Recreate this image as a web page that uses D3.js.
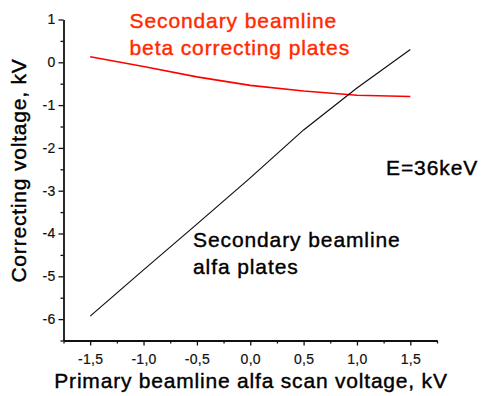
<!DOCTYPE html>
<html>
<head>
<meta charset="utf-8">
<script src="https://cdn.jsdelivr.net/npm/d3@7"></script>
<style>
  body { margin: 0; background: #fff; }
  text { font-family: "Liberation Sans", Arial, sans-serif; }
</style>
</head>
<body>
<svg id="chart" width="481" height="396"></svg>
<script>
// scan voltage of the primary beamline, kV
const scanVoltage = [-1.5, -1.0, -0.5, 0.0, 0.5, 1.0, 1.5];
// secondary beamline alfa plates
const alfaPlates = [-5.93, -4.85, -3.78, -2.70, -1.58, -0.60, 0.30];
// secondary beamline beta correcting plates
const betaPlates = [0.13, -0.10, -0.34, -0.54, -0.67, -0.77, -0.80];

const xMajor = [-1.5, -1.0, -0.5, 0.0, 0.5, 1.0, 1.5];
const xMinor = [-1.75, -1.25, -0.75, -0.25, 0.25, 0.75, 1.25, 1.75];
const yMajor = [1, 0, -1, -2, -3, -4, -5, -6];
const yMinor = [0.5, -0.5, -1.5, -2.5, -3.5, -4.5, -5.5, -6.5];

const svg = d3.select('#chart');

const x = d3.scaleLinear().domain([-1.75, 1.75]).range([63.5, 437]);
const y = d3.scaleLinear().domain([-6.5, 1]).range([340.5, 19.5]);

const fmtX = d => d3.format('.1f')(d).replace('.', ',').replace('\u2212', '-');
const fmtY = d => String(d);

// axes
const gx = svg.append('g').attr('transform', 'translate(0,' + y(-6.5) + ')');
gx.call(d3.axisBottom(x).tickValues(xMajor).tickSize(5).tickSizeOuter(0).tickPadding(9).tickFormat(fmtX));
gx.append('g').call(d3.axisBottom(x).tickValues(xMinor).tickSize(3).tickSizeOuter(0).tickFormat(''))
  .select('.domain').remove();

const gy = svg.append('g').attr('transform', 'translate(' + x(-1.75) + ',0)');
gy.call(d3.axisLeft(y).tickValues(yMajor).tickSize(5).tickSizeOuter(0).tickPadding(3).tickFormat(fmtY));
gy.append('g').call(d3.axisLeft(y).tickValues(yMinor).tickSize(3).tickSizeOuter(0).tickFormat(''))
  .select('.domain').remove();

svg.selectAll('.domain').attr('stroke', '#111').attr('stroke-width', 1.8);
svg.selectAll('.tick line').attr('stroke', '#111').attr('stroke-width', 1.3);
svg.selectAll('.tick text')
  .attr('fill', '#111')
  .attr('stroke', '#111')
  .attr('stroke-width', 0.2)
  .style('font-size', '14px')
  .style('letter-spacing', '0.3px')
  .style('font-family', '"Liberation Sans", Arial, sans-serif');

// lines
const line = d3.line().x(d => x(d[0])).y(d => y(d[1]));

svg.append('path')
  .datum(d3.zip(scanVoltage, betaPlates))
  .attr('d', line)
  .attr('fill', 'none')
  .attr('stroke', '#ff0000')
  .attr('stroke-width', 1.6);

svg.append('path')
  .datum(d3.zip(scanVoltage, alfaPlates))
  .attr('d', line)
  .attr('fill', 'none')
  .attr('stroke', '#111')
  .attr('stroke-width', 1.2);

// axis titles
svg.append('text')
  .attr('x', 251).attr('y', 387.5)
  .attr('text-anchor', 'middle')
  .style('font-size', '21px')
  .style('letter-spacing', '0.8px')
  .attr('fill', '#000').attr('stroke', '#000').attr('stroke-width', 0.4)
  .text('Primary beamline alfa scan voltage, kV');

svg.append('text')
  .attr('transform', 'translate(26,170.5) rotate(-90)')
  .attr('text-anchor', 'middle')
  .style('font-size', '21px')
  .style('letter-spacing', '0.8px')
  .attr('fill', '#000').attr('stroke', '#000').attr('stroke-width', 0.4)
  .text('Correcting voltage, kV');

// annotations
function label(lines, px, py, color) {
  const t = svg.append('text')
    .attr('x', px).attr('y', py)
    .style('font-size', '21px')
    .style('letter-spacing', '0.9px')
    .attr('fill', color).attr('stroke', color).attr('stroke-width', 0.4);
  lines.forEach((s, i) => {
    t.append('tspan').attr('x', px).attr('dy', i === 0 ? 0 : 27.5).text(s);
  });
}

label(['Secondary beamline', 'beta correcting plates'], 129.5, 27.5, '#ff2a00');
label(['Secondary beamline', 'alfa plates'], 193, 246.5, '#000');
label(['E=36keV'], 386, 175, '#000');
</script>
</body>
</html>
